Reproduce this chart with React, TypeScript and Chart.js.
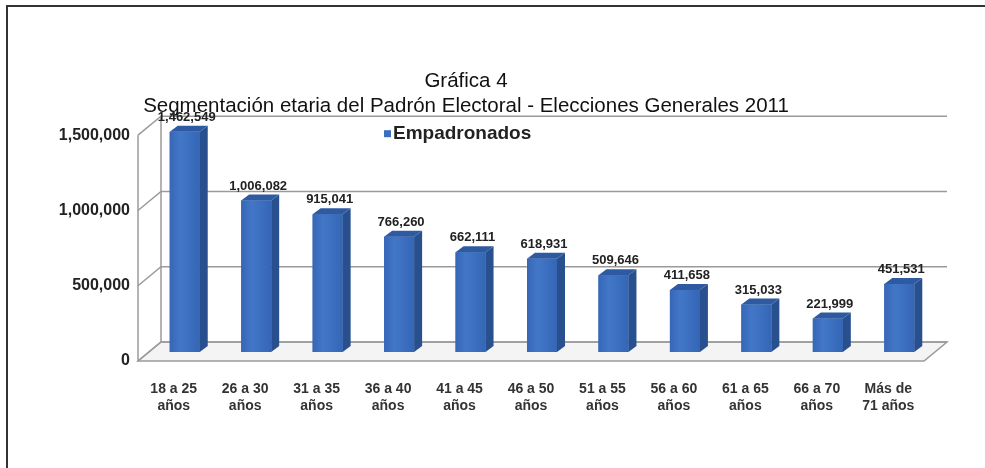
import React, { useEffect, useRef } from "react";
import { Chart, registerables } from "chart.js";

Chart.register(...registerables);

const categories: string[][] = [
  ["18 a 25", "años"],
  ["26 a 30", "años"],
  ["31 a 35", "años"],
  ["36 a 40", "años"],
  ["41 a 45", "años"],
  ["46 a 50", "años"],
  ["51 a 55", "años"],
  ["56 a 60", "años"],
  ["61 a 65", "años"],
  ["66 a 70", "años"],
  ["Más de", "71 años"],
];
const empadronados: number[] = [
  1462549, 1006082, 915041, 766260, 662111, 618931, 509646, 411658, 315033, 221999, 451531,
];
const seriesName = "Empadronados";
const titleLines = ["Gráfica 4", "Segmentación etaria del Padrón Electoral - Elecciones Generales 2011"];

const DX = 23; // 3D depth of the walls
const DY = 19;
const BX = 11; // bar offset (mid depth)
const BY = 9;
const SX = 8; // bar side depth
const SY = 6;

const fmt = (v: number) => v.toLocaleString("en-US");

const grid3d = {
  id: "grid3d",
  beforeDatasetsDraw(chart: any) {
    const { ctx, chartArea } = chart;
    const y = chart.scales.y;
    const l = chartArea.left;
    const r = chartArea.right;
    const b = chartArea.bottom;
    ctx.save();
    ctx.strokeStyle = "#9a9a9a";
    ctx.lineWidth = 1.5;
    // floor
    ctx.beginPath();
    ctx.moveTo(l, b);
    ctx.lineTo(r, b);
    ctx.lineTo(r + DX, b - DY);
    ctx.lineTo(l + DX, b - DY);
    ctx.closePath();
    ctx.fillStyle = "#f4f4f4";
    ctx.fill();
    ctx.stroke();
    // back wall lines
    y.ticks.forEach((t: any) => {
      const py = y.getPixelForValue(t.value);
      ctx.beginPath();
      ctx.moveTo(l, py);
      ctx.lineTo(l + DX, py - DY);
      ctx.lineTo(r + DX, py - DY);
      ctx.stroke();
    });
    // left axis
    ctx.beginPath();
    ctx.moveTo(l, y.getPixelForValue(y.max));
    ctx.lineTo(l, b);
    ctx.stroke();
    ctx.beginPath();
    ctx.moveTo(l + DX, y.getPixelForValue(y.max) - DY);
    ctx.lineTo(l + DX, b - DY);
    ctx.stroke();
    ctx.restore();
    // shift bars to mid depth
    ctx.save();
    ctx.translate(BX, -BY);
  },
  afterDatasetsDraw(chart: any) {
    const { ctx } = chart;
    const meta = chart.getDatasetMeta(0);
    meta.data.forEach((bar: any, i: number) => {
      const { x, y, base, width } = bar.getProps(["x", "y", "base", "width"], true);
      const xl = x - width / 2;
      const xr = x + width / 2;
      // front face shading
      const g = ctx.createLinearGradient(xl, 0, xr, 0);
      g.addColorStop(0, "#3766b6");
      g.addColorStop(0.35, "#4277c8");
      g.addColorStop(1, "#3566b6");
      ctx.fillStyle = g;
      ctx.fillRect(xl, y, width, base - y);
      // side
      ctx.beginPath();
      ctx.moveTo(xr, y);
      ctx.lineTo(xr + SX, y - SY);
      ctx.lineTo(xr + SX, base - SY);
      ctx.lineTo(xr, base);
      ctx.closePath();
      ctx.fillStyle = "#28508f";
      ctx.fill();
      // top
      ctx.beginPath();
      ctx.moveTo(xl, y);
      ctx.lineTo(xl + SX, y - SY);
      ctx.lineTo(xr + SX, y - SY);
      ctx.lineTo(xr, y);
      ctx.closePath();
      ctx.fillStyle = "#2d5aa0";
      ctx.fill();
      // value label
      ctx.fillStyle = "#222";
      ctx.font = "bold 13px Arial, 'Liberation Sans', sans-serif";
      ctx.textAlign = "center";
      ctx.textBaseline = "bottom";
      ctx.fillText(fmt(empadronados[i]), x + SX / 2 - 2, y - SY - 2);
    });
    ctx.restore();
  },
  afterDraw(chart: any) {
    const { ctx, chartArea } = chart;
    const lx = chartArea.left + 246;
    const ly = chartArea.top - 1;
    ctx.save();
    ctx.fillStyle = "#3d6fc0";
    ctx.fillRect(lx, ly - 4, 7, 7);
    ctx.fillStyle = "#222";
    ctx.font = "bold 19px Arial, 'Liberation Sans', sans-serif";
    ctx.textAlign = "left";
    ctx.textBaseline = "middle";
    ctx.fillText(seriesName, lx + 9, ly);
    ctx.restore();
  },
};

export default function App() {
  const ref = useRef<HTMLCanvasElement>(null);
  useEffect(() => {
    if (!ref.current) return;
    const chart = new Chart(ref.current, {
      type: "bar",
      data: {
        labels: categories,
        datasets: [
          {
            label: seriesName,
            data: empadronados,
            backgroundColor: "#3b6dbe",
            borderWidth: 0,
            barPercentage: 0.42,
            categoryPercentage: 1,
          },
        ],
      },
      options: {
        animation: false,
        responsive: true,
        maintainAspectRatio: false,
        layout: { padding: { left: 0, right: 61, top: 0, bottom: 0 } },
        plugins: {
          legend: { display: false },
          tooltip: { enabled: false },
          title: {
            display: true,
            text: titleLines,
            color: "#111",
            font: { family: "Arial, 'Liberation Sans', sans-serif", size: 20.5, weight: "normal", lineHeight: 1.2 },
            padding: { top: 62, bottom: 17 },
          },
        },
        scales: {
          x: {
            grid: { display: false, drawTicks: false },
            border: { display: false },
            ticks: {
              color: "#333",
              font: { family: "Arial, 'Liberation Sans', sans-serif", size: 14, weight: "bold", lineHeight: 1.2 },
              padding: 20,
              maxRotation: 0,
              autoSkip: false,
            },
            afterFit(scale: any) {
              scale.height = 109;
            },
          },
          y: {
            min: 0,
            max: 1500000,
            grid: { display: false, drawTicks: false },
            border: { display: false },
            ticks: {
              stepSize: 500000,
              color: "#222",
              padding: 8,
              font: { family: "Arial, 'Liberation Sans', sans-serif", size: 16, weight: "bold" },
              callback: (v: any) => fmt(Number(v)),
            },
            afterFit(scale: any) {
              scale.width = 130;
            },
          },
        },
      },
      plugins: [grid3d],
    });
    return () => chart.destroy();
  }, []);
  return (
    <div
      style={{
        position: "absolute",
        left: 6,
        top: 5,
        width: 977,
        height: 463,
        borderTop: "2px solid #333",
        borderLeft: "2px solid #333",
        background: "#fff",
        overflow: "hidden",
      }}
    >
      <canvas ref={ref} />
    </div>
  );
}
